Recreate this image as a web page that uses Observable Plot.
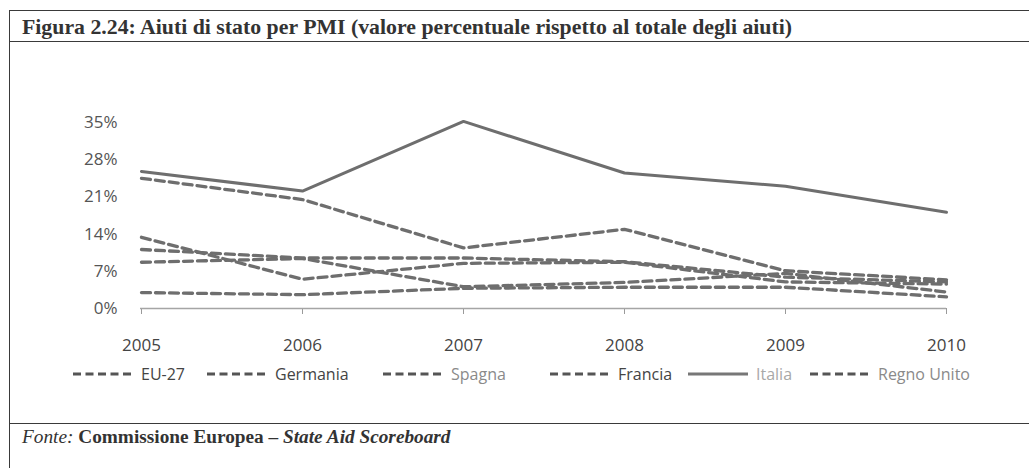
<!DOCTYPE html>
<html>
<head>
<meta charset="utf-8">
<script src="https://cdn.jsdelivr.net/npm/d3@7"></script>
<script src="https://cdn.jsdelivr.net/npm/@observablehq/plot@0.6"></script>
<style>
  html, body { margin: 0; padding: 0; background: #fff; width: 1029px; height: 468px; overflow: hidden; }
  #frame { position: absolute; left: 9px; top: 10px; width: 1100px; height: 500px;
           border-left: 1.5px solid #3a3a3a; border-top: 1.5px solid #3a3a3a; }
  #title { position: absolute; left: 12px; top: 4px; font-family: "Liberation Serif", "Times New Roman", serif;
           font-weight: bold; font-size: 21.8px; line-height: 24px; color: #333; white-space: nowrap; }
  #titleRule { position: absolute; left: 0; top: 30px; width: 1100px; border-top: 1.5px solid #3a3a3a; }
  #footRule { position: absolute; left: 0; top: 412px; width: 1100px; border-top: 1.5px solid #3a3a3a; }
  #foot { position: absolute; left: 12px; top: 415px; font-family: "Liberation Serif", "Times New Roman", serif;
          font-size: 19.3px; line-height: 22px; color: #333; white-space: nowrap; }
  #chart { position: absolute; left: 0; top: 50px; }
  #legend { position: absolute; left: 0; top: 363px; width: 1029px; height: 24px;
            font-family: "Open Sans", "Noto Sans", sans-serif; font-size: 16px; white-space: nowrap; }
  .item { position: absolute; top: 0; display: flex; align-items: center; height: 22px; }
  .item svg { margin-right: 8px; }
</style>
</head>
<body>
<div id="frame">
  <div id="title">Figura 2.24: Aiuti di stato per PMI (valore percentuale rispetto al totale degli aiuti)</div>
  <div id="titleRule"></div>
  <div id="footRule"></div>
  <div id="foot"><i>Fonte:</i> <b>Commissione Europea – <i>State Aid Scoreboard</i></b></div>
</div>
<div id="chart"></div>
<div id="legend"></div>
<script>
// ---- data (percent of total state aid going to SMEs) ----
const years = [2005, 2006, 2007, 2008, 2009, 2010];
const seriesNames = ["EU-27", "Germania", "Spagna", "Francia", "Italia", "Regno Unito"];
const eu27      = [11.1, 9.5, 9.5, 8.8, 5.9, 5.0];
const germania  = [24.5, 20.5, 11.4, 14.9, 7.1, 5.4];
const spagna    = [13.4, 5.5, 8.5, 8.7, 5.0, 4.6];
const francia   = [8.7, 9.4, 4.1, 4.9, 6.6, 3.1];
const italia    = [25.8, 22.1, 35.2, 25.5, 23.0, 18.1];
const regnoUnito= [3.0, 2.6, 3.8, 4.0, 4.0, 2.2];
const yTicks = [0, 7, 14, 21, 28, 35];

const valuesBySeries = [eu27, germania, spagna, francia, italia, regnoUnito];
const legendTextColors = ["#444", "#444", "#8a8a8a", "#444", "#a8a8a8", "#8a8a8a"];
const legendLeft = [73, 207, 383, 550, 688, 810]; // layout only
const solidSeries = "Italia";

const rows = [];
seriesNames.forEach((s, i) => years.forEach((yr, j) => rows.push({series: s, year: yr, value: valuesBySeries[i][j]})));

const lineColor = "#6e6e6e";
const chart = Plot.plot({
  width: 1029,
  height: 310,
  marginLeft: 140,
  marginRight: 83,
  marginTop: 72,
  marginBottom: 52,
  style: {fontFamily: "'Open Sans', 'Noto Sans', sans-serif", fontSize: "17px", background: "transparent"},
  x: {type: "point", domain: years, padding: 0},
  y: {domain: [0, 35]},
  marks: [
    Plot.axisY({ticks: yTicks, tickFormat: d => d + "%", tickSize: 0, tickPadding: 23, label: null, fill: "#555"}),
    Plot.axisX({tickSize: 6, tickPadding: 24, label: null, stroke: "#9a9a9a", fill: "#444", tickFormat: d => String(d)}),
    Plot.ruleY([0], {stroke: "#a5a5a5", strokeWidth: 1.5}),
    Plot.line(rows.filter(d => d.series !== solidSeries), {x: "year", y: "value", z: "series",
      stroke: lineColor, strokeWidth: 3.3, strokeDasharray: "9,5"}),
    Plot.line(rows.filter(d => d.series === solidSeries), {x: "year", y: "value", z: "series",
      stroke: lineColor, strokeWidth: 3})
  ]
});
document.getElementById("chart").appendChild(chart);

// ---- legend ----
const legend = d3.select("#legend");
seriesNames.forEach((s, i) => {
  const item = legend.append("div").attr("class", "item").style("left", legendLeft[i] + "px");
  const sw = item.append("svg").attr("width", 60).attr("height", 10);
  sw.append("line").attr("x1", 0).attr("x2", 60).attr("y1", 5).attr("y2", 5)
    .attr("stroke", s === solidSeries ? "#777" : "#555")
    .attr("stroke-width", 3)
    .attr("stroke-dasharray", s === solidSeries ? null : "8,4.5");
  item.append("span").text(s).style("color", legendTextColors[i]);
});
</script>
</body>
</html>
